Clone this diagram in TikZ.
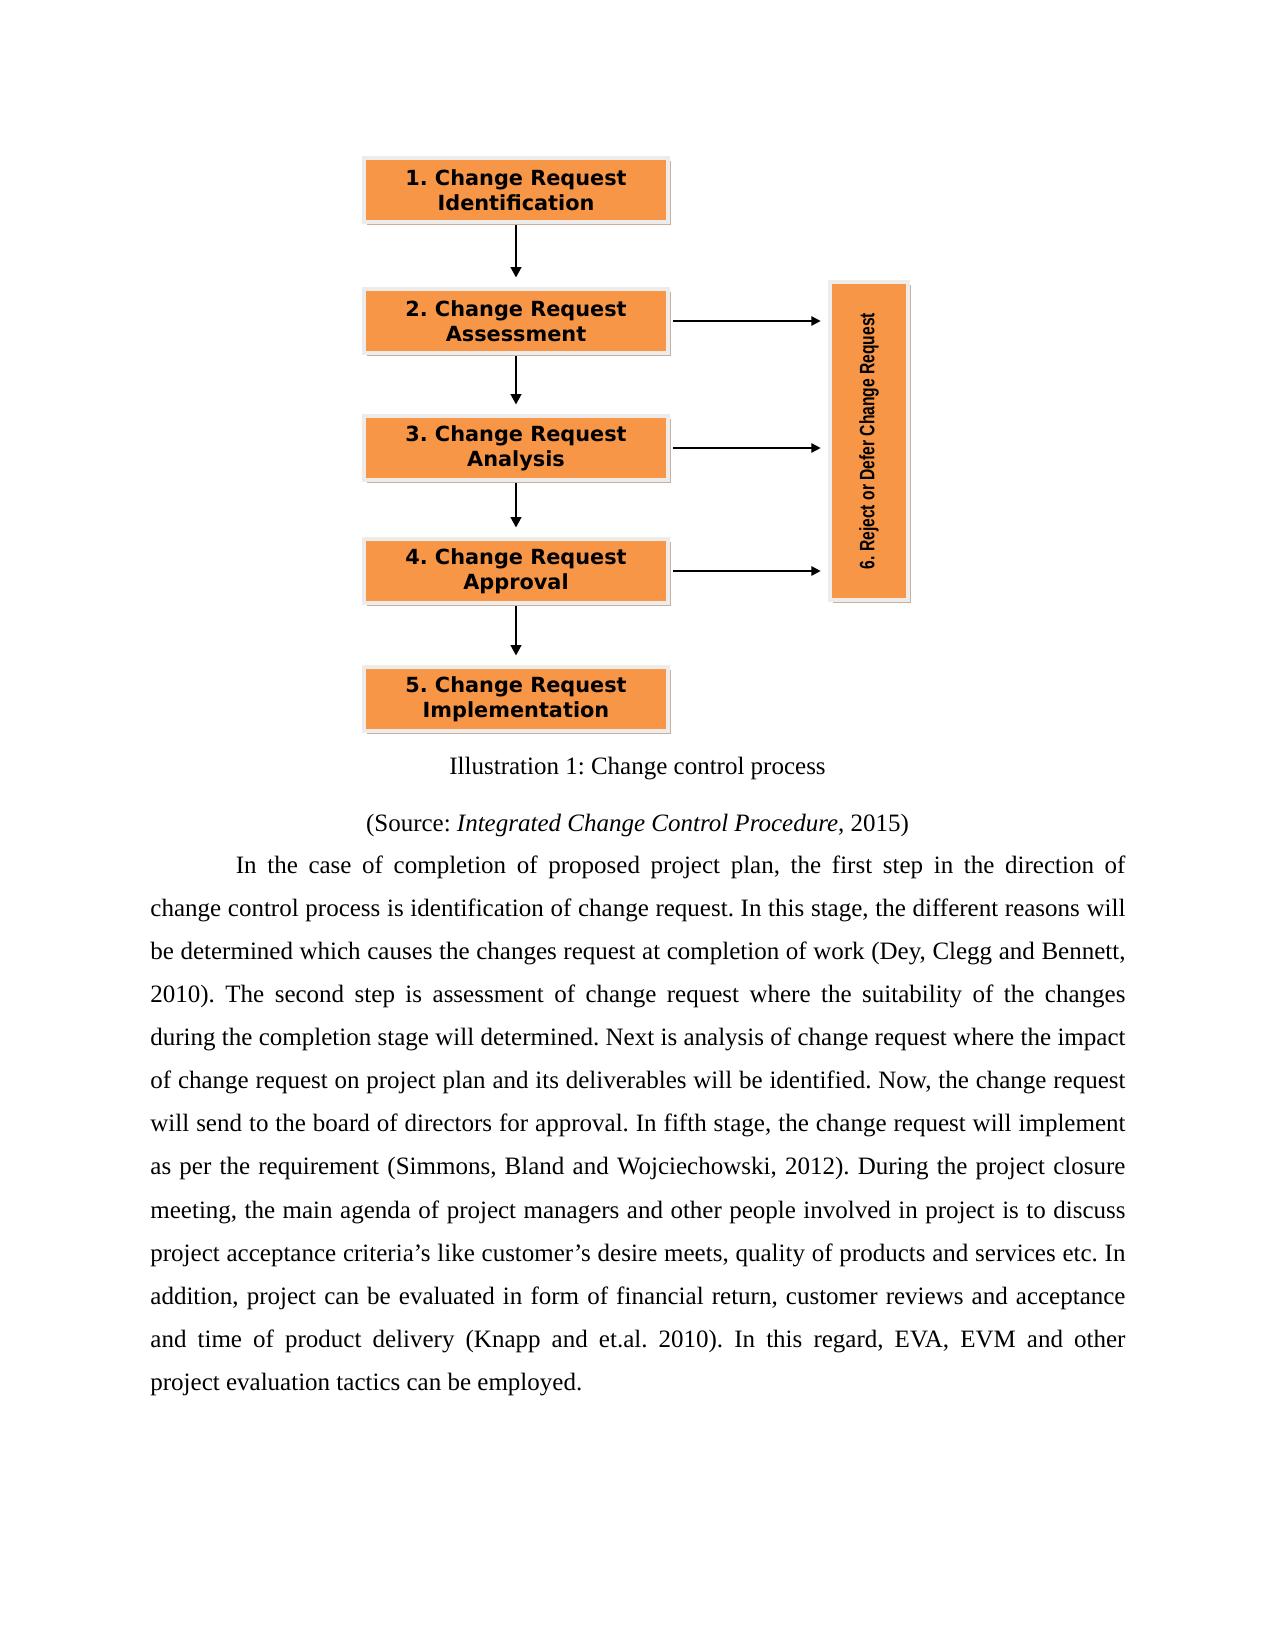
\documentclass[tikz,border=0pt]{standalone}
\usepackage{fontspec}
\setmainfont{Liberation Serif}
\newfontfamily\stagefont{DejaVu Sans}
\newfontfamily\narrowfont[FakeStretch=0.75]{Liberation Sans}
\usepackage{xcolor}
\usetikzlibrary{arrows.meta,shadows}
\definecolor{stageorange}{RGB}{247,150,70}
\definecolor{stageframe}{RGB}{238,236,234}
\definecolor{stageshadow}{RGB}{200,176,156}
\frenchspacing

\begin{document}
\begin{tikzpicture}[
  x=0.48pt,
  y=-0.48pt,
  stage/.style={rectangle, draw=stageframe, line width=2pt, fill=stageorange,
    drop shadow={shadow xshift=1.3pt, shadow yshift=-1.3pt, fill=stageshadow, opacity=1},
    minimum width=146pt, minimum height=30.7pt, inner sep=0pt,
    font=\stagefont\bfseries\fontsize{10}{12}\selectfont, align=center},
  rejectbox/.style={rectangle, draw=stageframe, line width=2pt, fill=stageorange,
    drop shadow={shadow xshift=1.3pt, shadow yshift=-1.3pt, fill=stageshadow, opacity=1},
    minimum width=37.4pt, minimum height=152.6pt, inner sep=0pt,
    font=\narrowfont\bfseries\fontsize{10}{11}\selectfont},
  flow/.style={-{Triangle[length=5pt,width=5pt]}, line width=1.3pt,
    shorten <=0.5pt, shorten >=4.5pt},
  side/.style={-{Triangle[length=4.5pt,width=4.5pt]}, line width=0.8pt,
    shorten <=1.5pt, shorten >=3.5pt},
  caption/.style={anchor=base, inner sep=0pt, font=\fontsize{12}{14}\selectfont},
  body/.style={anchor=base west, inner sep=0pt, text width=468pt, align=justify,
    font=\fontsize{12}{20.7}\selectfont}
]
  \useasboundingbox (0,0) rectangle (1275,1650);

  % the five steps
  \node[stage] (s1) at (516,190) {1. Change Request\\Identification};
  \node[stage] (s2) at (516,321) {2. Change Request\\Assessment};
  \node[stage] (s3) at (516,448) {3. Change Request\\Analysis};
  \node[stage] (s4) at (516,571) {4. Change Request\\Approval};
  \node[stage] (s5) at (516,699) {5. Change Request\\Implementation};

  \node[rejectbox] (reject) at (869,441)
    {\rotatebox{90}{6. Reject or Defer Change Request}};

  \draw[flow] (s1) -- (s2);
  \draw[flow] (s2) -- (s3);
  \draw[flow] (s3) -- (s4);
  \draw[flow] (s4) -- (s5);

  \draw[side] (s2.east) -- (s2.east -| reject.west);
  \draw[side] (s3.east) -- (s3.east -| reject.west);
  \draw[side] (s4.east) -- (s4.east -| reject.west);

  \node[caption] (cap) at (637.5,774) {Illustration 1: Change control process};
  \node[caption] (src) at (637.5,831)
    {(Source: \textit{Integrated Change Control Procedure}, 2015)};

  \node[body] (para) at (150,873) {\hspace*{41pt}In the case of completion of proposed project plan, the first step in the direction of\linebreak
change control process is identification of change request. In this stage, the different reasons will\linebreak
be determined which causes the changes request at completion of work (Dey, Clegg and Bennett,\linebreak
2010). The second step is assessment of change request where the suitability of the changes\linebreak
during the completion stage will determined. Next is analysis of change request where the impact\linebreak
of change request on project plan and its deliverables will be identified. Now, the change request\linebreak
will send to the board of directors for approval. In fifth stage, the change request will implement\linebreak
as per the requirement (Simmons, Bland and Wojciechowski, 2012). During the project closure\linebreak
meeting, the main agenda of project managers and other people involved in project is to discuss\linebreak
project acceptance criteria’s like customer’s desire meets, quality of products and services etc. In\linebreak
addition, project can be evaluated in form of financial return, customer reviews and acceptance\linebreak
and time of product delivery (Knapp and et.al. 2010). In this regard, EVA, EVM and other\linebreak
project evaluation tactics can be employed.};
\end{tikzpicture}
\end{document}
